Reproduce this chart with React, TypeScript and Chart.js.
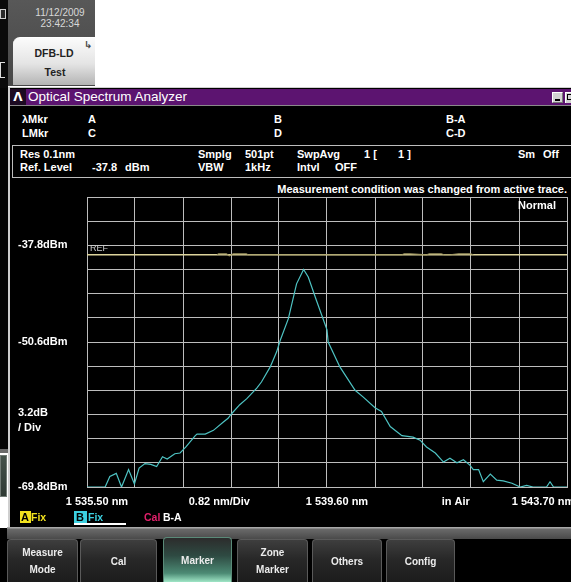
import React, { useEffect, useRef } from 'react';
import { Chart, registerables } from 'chart.js';

Chart.register(...registerables);

// ---- Data (wavelength in nm, level in dBm) ----
const TRACE_B_WL = [1535.50, 1535.81, 1535.89, 1536.00, 1536.09, 1536.21, 1536.31, 1536.39, 1536.49, 1536.59, 1536.69, 1536.79, 1536.87, 1537.00, 1537.09, 1537.19, 1537.35, 1537.38, 1537.52, 1537.66, 1537.83, 1537.91, 1537.97, 1538.11, 1538.23, 1538.40, 1538.48, 1538.63, 1538.74, 1538.80, 1538.94, 1539.08, 1539.20, 1539.28, 1539.42, 1539.60, 1539.62, 1539.82, 1540.08, 1540.22, 1540.42, 1540.53, 1540.68, 1540.88, 1541.07, 1541.19, 1541.30, 1541.45, 1541.59, 1541.70, 1541.82, 1541.93, 1542.04, 1542.10, 1542.19, 1542.27, 1542.39, 1542.50, 1542.61, 1542.76, 1542.90, 1543.01, 1543.12, 1543.35, 1543.41, 1543.47, 1543.70];
const TRACE_B_DBM = [-69.8, -69.8, -68.4, -68.0, -69.8, -67.5, -69.4, -67.3, -66.7, -66.8, -67.1, -65.8, -66.1, -65.4, -65.3, -64.5, -63.0, -62.8, -62.8, -62.3, -61.2, -60.7, -60.1, -58.9, -58.1, -56.7, -55.9, -53.9, -51.9, -50.4, -47.5, -42.9, -41.0, -42.0, -45.1, -49.0, -50.6, -53.9, -57.0, -57.9, -59.3, -59.8, -61.8, -63.0, -63.2, -63.6, -64.5, -65.3, -66.5, -66.0, -66.6, -66.2, -66.9, -67.5, -67.5, -69.1, -68.1, -68.9, -69.0, -69.3, -69.8, -69.6, -69.8, -69.8, -69.1, -69.8, -69.8];

const REF_WL = [1535.50, 1543.70];
const REF_DBM = [-39.05, -39.05];

const TRACE_A_WL = [1537.72, 1537.75, 1537.88, 1537.93, 1538.00, 1538.22, 1538.25, 1540.88, 1540.92, 1541.02, 1541.30, 1541.35, 1541.55, 1541.60, 1541.70, 1541.85, 1542.05, 1542.10];
const TRACE_A_DBM = [-39.05, -38.92, -38.92, -39.18, -38.92, -38.92, -39.05, -39.05, -38.92, -38.92, -39.05, -38.92, -38.92, -39.05, -39.05, -38.92, -38.92, -39.05];

const X_GRID_TICKS = [1535.50, 1536.32, 1537.14, 1537.96, 1538.78, 1539.60, 1540.42, 1541.24, 1542.06, 1542.88, 1543.70];
const X_LABEL_TICKS = [1535.67, 1537.76, 1539.77, 1541.80, 1543.29];
const X_LABEL_TEXT = ['1 535.50 nm', '0.82 nm/Div', '1 539.60 nm', 'in Air', '1 543.70 nm'];

const Y_GRID_TICKS = [-31.4, -34.6, -37.8, -41.0, -44.2, -47.4, -50.6, -53.8, -57.0, -60.2, -63.4, -66.6, -69.8];
const Y_LABEL_TICKS = [-37.8, -50.6, -61.0, -69.8];
const Y_LABEL_TEXT: (string | string[])[] = ['-37.8dBm', '-50.6dBm', ['3.2dB', '/ Div'], '-69.8dBm'];

const X_TICKS = [
  ...X_GRID_TICKS.map((v) => ({ value: v, text: '' as any, grid: true })),
  ...X_LABEL_TICKS.map((v, i) => ({ value: v, text: X_LABEL_TEXT[i] as any, grid: false })),
];
const Y_TICKS = [
  ...Y_GRID_TICKS.map((v) => ({ value: v, text: '' as any, grid: true })),
  ...Y_LABEL_TICKS.map((v, i) => ({ value: v, text: Y_LABEL_TEXT[i] as any, grid: false })),
];

const GRID_COLOR = '#bdbdbd';
const FONT = '"Liberation Sans", Arial, sans-serif';

function Txt(props: any) {
  const { x, y, children, size = 11, color = '#fff', weight = 700, align = 'left', style = {} } = props;
  const s: any = {
    position: 'absolute',
    top: y - 8,
    lineHeight: '16px',
    fontSize: size,
    color,
    fontWeight: weight,
    fontFamily: FONT,
    whiteSpace: 'pre',
    ...style,
  };
  if (align === 'right') s.right = 571 - x;
  else if (align === 'center') {
    s.left = x - 100;
    s.width = 200;
    s.textAlign = 'center';
  } else s.left = x;
  return <div style={s}>{children}</div>;
}

const BUTTONS = [
  { x: 7, w: 71, lines: ['Measure', 'Mode'] },
  { x: 80, w: 77, lines: ['Cal'] },
  { x: 163, w: 69, lines: ['Marker'], active: true },
  { x: 237, w: 71, lines: ['Zone', 'Marker'] },
  { x: 312, w: 70, lines: ['Others'] },
  { x: 386, w: 69, lines: ['Config'] },
];

function Box(props: any) {
  return <div style={{ position: 'absolute', boxSizing: 'border-box', ...props.style }}>{props.children}</div>;
}

export default function App() {
  const canvasRef = useRef<HTMLCanvasElement | null>(null);

  useEffect(() => {
    if (!canvasRef.current) return;
    const tickFont = { family: FONT, size: 11, weight: 'bold' as const, lineHeight: 1.35 };
    const chart = new Chart(canvasRef.current, {
      type: 'line',
      data: {
        datasets: [
          {
            label: 'B',
            data: TRACE_B_WL.map((x, i) => ({ x, y: TRACE_B_DBM[i] })),
            borderColor: '#4ec3c3',
            borderWidth: 1.2,
            pointRadius: 0,
            tension: 0,
          },
          {
            label: 'A',
            data: TRACE_A_WL.map((x, i) => ({ x, y: TRACE_A_DBM[i] })),
            borderColor: '#a39a66',
            borderWidth: 1.2,
            pointRadius: 0,
            tension: 0,
          },
          {
            label: 'REF',
            data: REF_WL.map((x, i) => ({ x, y: REF_DBM[i] })),
            borderColor: '#ddd49c',
            borderWidth: 1.3,
            pointRadius: 0,
            tension: 0,
          },
        ],
      },
      options: {
        animation: false,
        responsive: false,
        events: [],
        layout: { autoPadding: false, padding: { left: 10, top: 7, right: 4, bottom: 0 } } as any,
        plugins: { legend: { display: false }, tooltip: { enabled: false } },
        scales: {
          x: {
            type: 'linear',
            min: 1535.5,
            max: 1543.7,
            afterBuildTicks: (s: any) => {
              s.ticks = X_TICKS.map((t) => ({ value: t.value }));
            },
            afterFit: (s: any) => {
              s.height = 33;
              s.paddingLeft = 0;
              s.paddingRight = 0;
            },
            grid: {
              color: (c: any) => (X_TICKS[c.index] && X_TICKS[c.index].grid ? GRID_COLOR : 'rgba(0,0,0,0)'),
              drawTicks: false,
              lineWidth: 1,
            },
            border: { display: true, color: GRID_COLOR, width: 1 },
            ticks: {
              autoSkip: false,
              maxRotation: 0,
              minRotation: 0,
              padding: 8,
              color: '#ffffff',
              font: tickFont,
              callback: (_v: any, i: number) => X_TICKS[i].text,
            },
          },
          y: {
            type: 'linear',
            min: -69.8,
            max: -31.4,
            afterBuildTicks: (s: any) => {
              s.ticks = Y_TICKS.map((t) => ({ value: t.value }));
            },
            afterFit: (s: any) => {
              s.width = 69;
              s.paddingTop = 0;
              s.paddingBottom = 0;
            },
            grid: {
              color: (c: any) => (Y_TICKS[c.index] && Y_TICKS[c.index].grid ? GRID_COLOR : 'rgba(0,0,0,0)'),
              drawTicks: false,
              lineWidth: 1,
            },
            border: { display: true, color: GRID_COLOR, width: 1 },
            ticks: {
              autoSkip: false,
              crossAlign: 'far',
              padding: 0,
              color: '#ffffff',
              font: tickFont,
              callback: (_v: any, i: number) => Y_TICKS[i].text,
            },
          },
        },
      },
    } as any);
    return () => chart.destroy();
  }, []);

  return (
    <div
      style={{
        position: 'fixed',
        left: 0,
        top: 0,
        width: 571,
        height: 582,
        overflow: 'hidden',
        background: '#ffffff',
        fontFamily: FONT,
      }}
    >
      {/* top-left strip */}
      <Box style={{ left: 0, top: 0, width: 8, height: 88, background: '#0a0a0a' }} />
      <Box style={{ left: 0, top: 9, width: 6, height: 10, border: '1px solid #cfcfcf', background: '#2a2a2a' }} />
      <Box style={{ left: 0, top: 62, width: 5, height: 16, borderTop: '1px solid #ddd', borderBottom: '1px solid #ddd', borderLeft: '1px solid #ddd' }} />

      {/* date / preset panel */}
      <Box style={{ left: 8, top: 0, width: 87, height: 86, background: 'linear-gradient(#585858, #474747)' }} />
      <Txt x={60} y={13} size={10} weight={400} color="#d8d8d8" align="center">11/12/2009</Txt>
      <Txt x={60} y={24} size={10} weight={400} color="#d8d8d8" align="center">23:42:34</Txt>
      <Box
        style={{
          left: 13,
          top: 37,
          width: 82,
          height: 48,
          borderRadius: '7px 0 0 0',
          background: 'linear-gradient(#fbfbfb, #e4e4e4 55%, #b4b4b4)',
          borderTop: '1px solid #ffffff',
        }}
      />
      <Txt x={54} y={53} size={10.5} color="#222" align="center">DFB-LD</Txt>
      <Txt x={55} y={72} size={10.5} color="#222" align="center">Test</Txt>
      <Txt x={84} y={45} size={10} color="#444" style={{ fontFamily: '"DejaVu Sans", sans-serif' }}>↳</Txt>

      {/* left edge strip */}
      <Box style={{ left: 0, top: 88, width: 8, height: 362, background: '#050505' }} />
      <Box style={{ left: 0, top: 449, width: 8, height: 4, background: '#6a6a6a' }} />
      <Box style={{ left: 0, top: 455, width: 7, height: 42, background: 'linear-gradient(#45524b, #2f3a34)', border: '1px solid #707a74' }} />

      {/* window */}
      <Box
        style={{
          left: 8,
          top: 87,
          width: 563,
          height: 441,
          background: '#000',
          borderLeft: '2px solid #cfcfcf',
          borderTop: '1px solid #cfcfcf',
        }}
      />
      <Box style={{ left: 10, top: 89, width: 561, height: 16, background: '#5c1470' }} />
      <Box style={{ left: 10, top: 105, width: 561, height: 1, background: '#8a8a8a' }} />
      <Box style={{ left: 10, top: 89, width: 16, height: 16, background: '#1c0a22' }} />
      <Txt x={18} y={97} size={12} color="#fff" align="center" style={{ fontFamily: '"DejaVu Sans", sans-serif' }}>Λ</Txt>
      <Txt x={28} y={97} size={13.5} weight={400} color="#fff">Optical Spectrum Analyzer</Txt>
      <Box style={{ left: 552, top: 92, width: 11, height: 11, background: '#d2d2d2', borderTop: '1px solid #fff', borderLeft: '1px solid #fff', borderRight: '1px solid #777', borderBottom: '1px solid #777' }} />
      <Box style={{ left: 555, top: 99, width: 5, height: 2, background: '#000' }} />
      <Box style={{ left: 565, top: 92, width: 11, height: 11, background: '#d2d2d2', borderTop: '1px solid #fff', borderLeft: '1px solid #fff' }} />
      <Box style={{ left: 567, top: 94, width: 6, height: 6, border: '1px solid #000' }} />

      {/* marker header */}
      <Txt x={22} y={119}>λMkr</Txt>
      <Txt x={22} y={133}>LMkr</Txt>
      <Txt x={88} y={119}>A</Txt>
      <Txt x={88} y={133}>C</Txt>
      <Txt x={274} y={119}>B</Txt>
      <Txt x={274} y={133}>D</Txt>
      <Txt x={446} y={119}>B-A</Txt>
      <Txt x={446} y={133}>C-D</Txt>

      {/* parameter box */}
      <Box style={{ left: 12, top: 145, width: 570, height: 33, border: '1px solid #bdbdbd' }} />
      <Txt x={20} y={154}>Res 0.1nm</Txt>
      <Txt x={20} y={167}>Ref. Level</Txt>
      <Txt x={92} y={167}>-37.8</Txt>
      <Txt x={125} y={167}>dBm</Txt>
      <Txt x={198} y={154}>Smplg</Txt>
      <Txt x={198} y={167}>VBW</Txt>
      <Txt x={245} y={154}>501pt</Txt>
      <Txt x={245} y={167}>1kHz</Txt>
      <Txt x={297} y={154}>SwpAvg</Txt>
      <Txt x={297} y={167}>Intvl</Txt>
      <Txt x={335} y={167}>OFF</Txt>
      <Txt x={364} y={154}>1 [</Txt>
      <Txt x={398} y={154}>1 ]</Txt>
      <Txt x={518} y={154}>Sm</Txt>
      <Txt x={543} y={154}>Off</Txt>

      <Txt x={567} y={189} align="right">Measurement condition was changed from active trace.</Txt>

      {/* chart */}
      <canvas
        ref={canvasRef}
        width={563}
        height={330}
        style={{ position: 'absolute', left: 8, top: 190, width: 563, height: 330 }}
      />

      <Txt x={556} y={205} align="right">Normal</Txt>
      <Txt x={90} y={248} size={9} weight={400} color="#cfcfcf">REF</Txt>

      {/* trace legend */}
      <Box style={{ left: 20, top: 511, width: 11, height: 12, background: '#f2e21e' }} />
      <Txt x={21} y={517} size={11} color="#000">A</Txt>
      <Txt x={31} y={517} size={10.5} color="#f2e21e">Fix</Txt>
      <Box style={{ left: 74, top: 511, width: 13, height: 12, background: '#3cd0e0' }} />
      <Txt x={76} y={517} size={11} color="#000">B</Txt>
      <Txt x={88} y={517} size={10.5} color="#3cd0e0">Fix</Txt>
      <Box style={{ left: 74, top: 523, width: 52, height: 2, background: '#fff' }} />
      <Txt x={144} y={517} size={10.5} color="#e0206a">Cal</Txt>
      <Txt x={163} y={517} size={10.5} color="#fff">B-A</Txt>

      {/* lower-left white gap */}
      <Box style={{ left: 0, top: 497, width: 8, height: 31, background: '#ffffff' }} />

      {/* bottom menu bar */}
      <Box style={{ left: 0, top: 528, width: 571, height: 54, background: '#000' }} />
      <Box
        style={{
          left: 7,
          top: 527,
          width: 564,
          height: 12,
          background: 'linear-gradient(#a8a8a8 0px, #a8a8a8 1px, #6a6a6a 2px, #4a4a4a 100%)',
        }}
      />
      {BUTTONS.map((b) => (
        <div
          key={b.x}
          style={{
            position: 'absolute',
            left: b.x,
            top: b.active ? 537 : 539,
            width: b.w,
            height: b.active ? 45 : 43,
            boxSizing: 'border-box',
            borderRadius: '4px 4px 0 0',
            border: b.active ? '1px solid #5a8a78' : '1px solid #5a5a5a',
            borderBottom: 'none',
            background: b.active
              ? 'linear-gradient(#2c2c2c 0%, #2e4a42 40%, #4c8a74 80%, #9fe6c6 100%)'
              : 'linear-gradient(#3e3e3e, #282828 45%, #1c1c1c)',
            display: 'flex',
            flexDirection: 'column',
            alignItems: 'center',
            justifyContent: 'center',
            color: '#ececec',
            fontFamily: FONT,
            fontWeight: 700,
            fontSize: 10,
            lineHeight: '17px',
          }}
        >
          {b.lines.map((l) => (
            <div key={l}>{l}</div>
          ))}
        </div>
      ))}
    </div>
  );
}
